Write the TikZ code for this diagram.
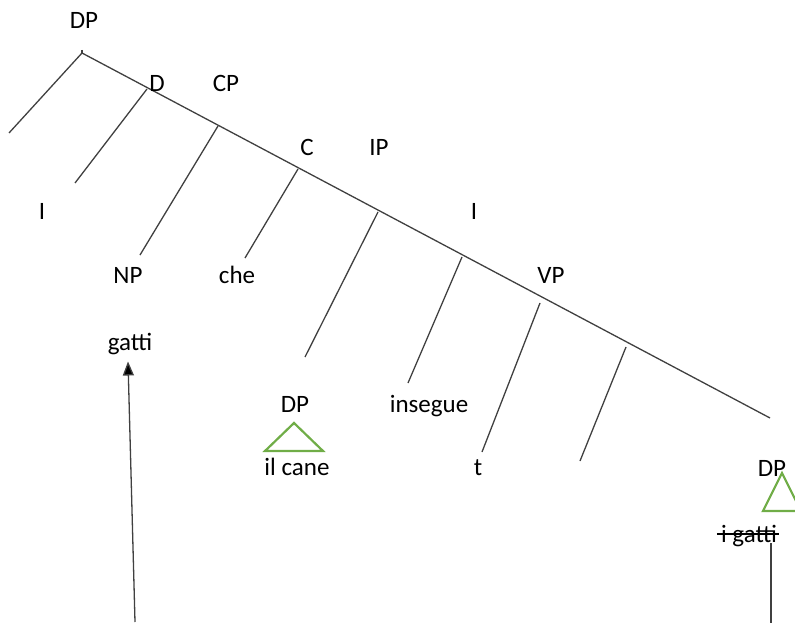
\documentclass[tikz,border=0pt]{standalone}
\usepackage{fontspec}
\setmainfont{Carlito}
\usetikzlibrary{arrows.meta}
\definecolor{treeline}{RGB}{64,64,64}
\definecolor{tri}{RGB}{112,173,71}
\tikzset{
  lab/.style={inner sep=0pt, anchor=base, font=\fontsize{25}{30}\selectfont, text=black},
  edge/.style={draw=treeline, line width=1.3pt},
  trig/.style={draw=tri, line width=2.2pt, line join=miter},
}
\begin{document}
\begin{tikzpicture}[x=1pt,y=-1pt]
\useasboundingbox (0,0) rectangle (795,623);
\clip (0,0) rectangle (795,623);

% spine of the tree
\coordinate (top) at (82,53);
\coordinate (end) at (770,418);
\draw[edge] (82,50) -- (top);
\draw[edge] (top) -- (end);

% branch points along the spine and their lower ends
\coordinate (bD)  at (147,89);   \coordinate (eD)  at (75,183);
\coordinate (bCP) at (218,126);  \coordinate (eCP) at (140,255);
\coordinate (bC)  at (298,169);  \coordinate (eC)  at (245,258);
\coordinate (bIP) at (378,212);  \coordinate (eIP) at (305,357);
\coordinate (bI)  at (462,257);  \coordinate (eI)  at (408,383);
\coordinate (bVP) at (540,303);  \coordinate (eVP) at (482,452);
\coordinate (bV)  at (626,347);  \coordinate (eV)  at (580,461);
\coordinate (eTop) at (9,133);

\draw[edge] (top) -- (eTop);
\draw[edge] (bD)  -- (eD);
\draw[edge] (bCP) -- (eCP);
\draw[edge] (bC)  -- (eC);
\draw[edge] (bIP) -- (eIP);
\draw[edge] (bI)  -- (eI);
\draw[edge] (bVP) -- (eVP);
\draw[edge] (bV)  -- (eV);

% labels
\node[lab] (nDP)   at (84,29)  {DP};
\node[lab] (nD)    at (157,92) {D};
\node[lab] (nCP)   at (226,92) {CP};
\node[lab] (nC)    at (307,155) {C};
\node[lab] (nIP)   at (379,155) {IP};
\node[lab] (nIl)   at (42,219) {I};
\node[lab] (nIr)   at (474,219) {I};
\node[lab] (nNP)   at (128,283) {NP};
\node[lab] (nche)  at (237,283) {che};
\node[lab] (nVP)   at (551,283) {VP};
\node[lab] (ngatti) at (130,350) {gatti};
\node[lab] (nDPm)  at (295,412) {DP};
\node[lab] (nins)  at (429,412) {insegue};
\node[lab] (ncane) at (297,475) {il cane};
\node[lab] (nt)    at (478,475) {t};
\node[lab] (nDPr)  at (772,476) {DP};
\node[lab] (nig)   at (749,542) {i gatti};

% strike-through of the moved phrase
\draw[black, line width=1.4pt] ([xshift=-4pt,yshift=8pt]nig.base west) -- ([xshift=2pt,yshift=8pt]nig.base east);

% triangles
\draw[trig] (294,423) -- (323,451) -- (265,451) -- cycle;
\draw[trig] (782,473) -- (801,511) -- (763,511) -- cycle;

% trace line below the moved phrase
\coordinate (tb) at (771,623);
\draw[edge] (771,543) -- (tb);

% movement arrow
\coordinate (arrS) at (135,622);
\draw[edge, -{Triangle[length=14pt,width=11pt,fill=black]}] (arrS) -- ([xshift=-2pt,yshift=-7pt]ngatti.south);
\end{tikzpicture}
\end{document}
